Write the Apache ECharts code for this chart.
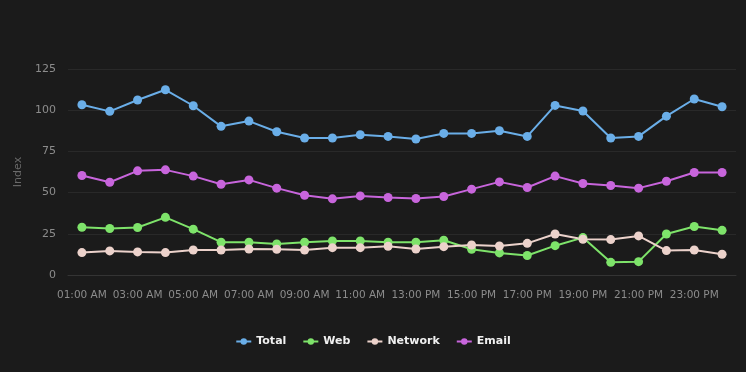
<!DOCTYPE html>
<html><head><meta charset="utf-8">
<script src="https://cdn.jsdelivr.net/npm/echarts@6/dist/echarts.min.js"></script>
<style>html,body{margin:0;padding:0;background:#1b1b1b;}#c{width:746px;height:372px;}</style>
</head><body><div id="c"></div>
<script>
const categories = ["01:00 AM","02:00 AM","03:00 AM","04:00 AM","05:00 AM","06:00 AM","07:00 AM","08:00 AM","09:00 AM","10:00 AM","11:00 AM","12:00 PM","13:00 PM","14:00 PM","15:00 PM","16:00 PM","17:00 PM","18:00 PM","19:00 PM","20:00 PM","21:00 PM","22:00 PM","23:00 PM","24:00 PM"];
const total = [103.3,99.3,106.2,112.4,102.7,90.2,93.4,86.9,83.1,83.1,85.1,84.1,82.5,85.9,85.9,87.5,84.1,102.9,99.5,83.1,84.1,96.4,106.8,102.1];
const web = [29.0,28.2,28.8,35.0,27.8,19.9,19.9,18.8,19.9,20.7,20.7,19.9,19.9,21.1,15.6,13.4,11.8,17.8,22.7,7.7,8.1,24.9,29.4,27.1];
const network = [13.6,14.6,14.0,13.6,15.2,15.2,15.8,15.6,15.2,16.6,16.6,17.4,15.8,17.2,18.2,17.6,19.2,24.9,21.7,21.5,23.7,14.8,15.2,12.6];
const email = [60.4,56.3,63.2,63.8,60.0,55.1,57.7,52.7,48.4,46.2,48.0,47.0,46.4,47.6,52.1,56.5,53.1,60.0,55.5,54.3,52.7,56.9,62.2,62.2];
const yTicks = {min:0, max:125, interval:25};

const colors = ['#6aaee8','#7ee36a','#ecd2cb','#c865dc'];
const names = ['Total','Web','Network','Email'];
const datas = [total, web, network, email];

const chart = echarts.init(document.getElementById('c'));
chart.setOption({
  backgroundColor:'#1b1b1b',
  color: colors,
  grid:{left:68,right:10,top:69,bottom:97},
  legend:{top:331, left:'center', itemGap:16, itemWidth:15, itemHeight:8,
    textStyle:{color:'#f0f0f0', fontWeight:'bold', fontSize:11, fontFamily:'DejaVu Sans'}},
  xAxis:{type:'category', data:categories, boundaryGap:true,
    axisLine:{lineStyle:{color:'#343434'}},
    axisTick:{alignWithLabel:true, interval:1, length:8, lineStyle:{color:'#4a4a4a'}},
    axisLabel:{interval:1, color:'#8c8c8c', fontSize:10.5, fontFamily:'DejaVu Sans', margin:15},
    splitLine:{show:false}},
  yAxis:{type:'value', min:yTicks.min, max:yTicks.max, interval:yTicks.interval,
    name:'Index', nameLocation:'middle', nameGap:42,
    nameTextStyle:{color:'#6a6a6a', fontSize:11, fontFamily:'DejaVu Sans'},
    axisLine:{show:false}, axisTick:{show:false},
    axisLabel:{color:'#8c8c8c', fontSize:11, fontFamily:'DejaVu Sans', margin:12},
    splitLine:{lineStyle:{color:'#292929'}}},
  series: names.map((n,i)=>({name:n, type:'line', data:datas[i], symbol:'circle', symbolSize:9,
    lineStyle:{width:2}, itemStyle:{color:colors[i]}, animation:false}))
});
</script></body></html>
